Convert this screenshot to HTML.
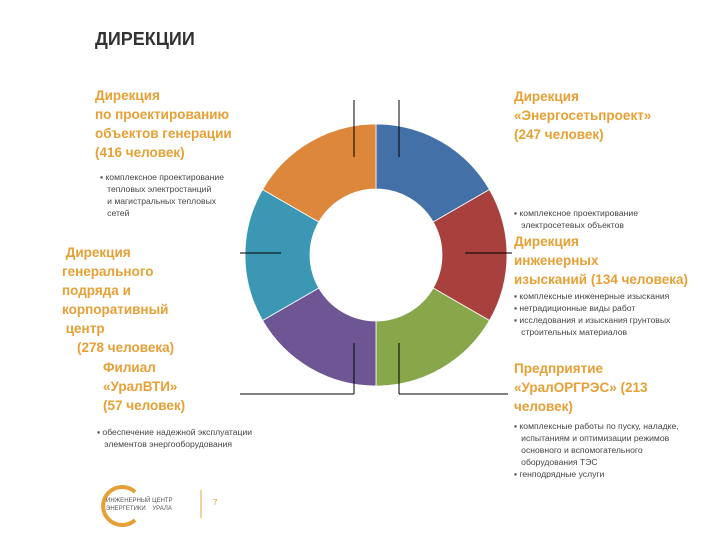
<!DOCTYPE html>
<html><head><meta charset="utf-8"><style>
body{margin:0;width:720px;height:540px;background:#fff;position:relative;overflow:hidden;font-family:"Liberation Sans",sans-serif}
.t{position:absolute;color:#E6A035;font-weight:bold;font-size:13.5px;line-height:19px;white-space:nowrap}
.b{position:absolute;color:#444;font-size:8.6px;line-height:12px;white-space:nowrap}
svg{position:absolute;left:0;top:0}
</style></head><body>
<div style="position:absolute;left:95px;top:29px;font-size:18px;font-weight:bold;color:#333">ДИРЕКЦИИ</div>
<svg id="chart" width="720" height="540"></svg>

<div class="t" style="left:95px;top:86px">Дирекция<br>по проектированию<br>объектов генерации<br>(416 человек)</div>
<div class="b" style="left:100px;top:171px">▪ комплексное проектирование<br>&nbsp;&nbsp;&nbsp;тепловых электростанций<br>&nbsp;&nbsp;&nbsp;и магистральных тепловых<br>&nbsp;&nbsp;&nbsp;сетей</div>
<div class="t" style="left:62px;top:243px">&nbsp;Дирекция<br>генерального<br>подряда и<br>корпоративный<br>&nbsp;центр<br>&nbsp;&nbsp;&nbsp;&nbsp;(278 человека)</div>
<div class="t" style="left:103px;top:358px">Филиал<br>«УралВТИ»<br>(57 человек)</div>
<div class="b" style="left:97px;top:426px">▪ обеспечение надежной эксплуатации<br>&nbsp;&nbsp;&nbsp;элементов энергооборудования</div>

<div class="t" style="left:514px;top:87px">Дирекция<br>«Энергосетьпроект»<br>(247 человек)</div>
<div class="b" style="left:514px;top:207px">▪ комплексное проектирование<br>&nbsp;&nbsp;&nbsp;электросетевых объектов</div>
<div class="t" style="left:514px;top:232px">Дирекция<br>инженерных<br>изысканий (134 человека)</div>
<div class="b" style="left:514px;top:290px">▪ комплексные инженерные изыскания<br>▪ нетрадиционные виды работ<br>▪ исследования и изыскания грунтовых<br>&nbsp;&nbsp;&nbsp;строительных материалов</div>
<div class="t" style="left:514px;top:359px">Предприятие<br>«УралОРГРЭС» (213<br>человек)</div>
<div class="b" style="left:514px;top:420px">▪ комплексные работы по пуску, наладке,<br>&nbsp;&nbsp;&nbsp;испытаниям и оптимизации режимов<br>&nbsp;&nbsp;&nbsp;основного и вспомогательного<br>&nbsp;&nbsp;&nbsp;оборудования ТЭС<br>▪ генподрядные услуги</div>

<div style="position:absolute;left:106px;top:497px;font-size:6px;line-height:8px;color:#555">ИНЖЕНЕРНЫЙ ЦЕНТР<br>ЭНЕРГЕТИКИ &nbsp;&nbsp;&nbsp;УРАЛА</div>
<div style="position:absolute;left:213px;top:498px;font-size:8px;color:#E6A035">7</div>
<script>
const categories=["Энергосетьпроект","Инженерные изыскания","УралОРГРЭС","УралВТИ","Генподряд","Генерация"];
const values=[1,1,1,1,1,1];
const colors=["#4470A8","#A8403D","#88A64A","#6E5694","#3B97B3","#DD873A"];
const svg=document.getElementById('chart');
const NS="http://www.w3.org/2000/svg";
const cx=376,cy=255,R=131,r=66;
const total=values.reduce((a,b)=>a+b,0);
function pt(a,rad){return [cx+rad*Math.sin(a),cy-rad*Math.cos(a)];}
let acc=0;
values.forEach((v,i)=>{
  const a0=acc/total*2*Math.PI; acc+=v; const a1=acc/total*2*Math.PI;
  const lg=(a1-a0)>Math.PI?1:0;
  const p0=pt(a0,R),p1=pt(a1,R),q1=pt(a1,r),q0=pt(a0,r);
  const p=document.createElementNS(NS,'path');
  p.setAttribute('d',`M${p0}L${p0}A${R},${R} 0 ${lg} 1 ${p1}L${q1}A${r},${r} 0 ${lg} 0 ${q0}Z`);
  p.setAttribute('fill',colors[i%colors.length]);
  p.setAttribute('stroke','#fff');p.setAttribute('stroke-width','0.8');
  
  
  svg.appendChild(p);
});
const leaders=[[354,100,354,157],[399,100,399,157],[465,253,512,253],[240,253,281,253],[354,343,354,394],[354,394,240,394],[399,343,399,394],[399,394,508,394],[201,490,201,518]];
leaders.forEach(l=>{
  const e=document.createElementNS(NS,'line');
  e.setAttribute('x1',l[0]);e.setAttribute('y1',l[1]);e.setAttribute('x2',l[2]);e.setAttribute('y2',l[3]);
  e.setAttribute('stroke',l[0]===201?'#E6A035':'#000');e.setAttribute('stroke-width','1');
  
  
  svg.appendChild(e);
});
const arc=document.createElementNS(NS,'path');
arc.setAttribute('d','M135,492 A19,19 0 1 0 135,520');
arc.setAttribute('fill','none');arc.setAttribute('stroke','#E6A035');arc.setAttribute('stroke-width','4');


svg.appendChild(arc);
</script>
</body></html>
